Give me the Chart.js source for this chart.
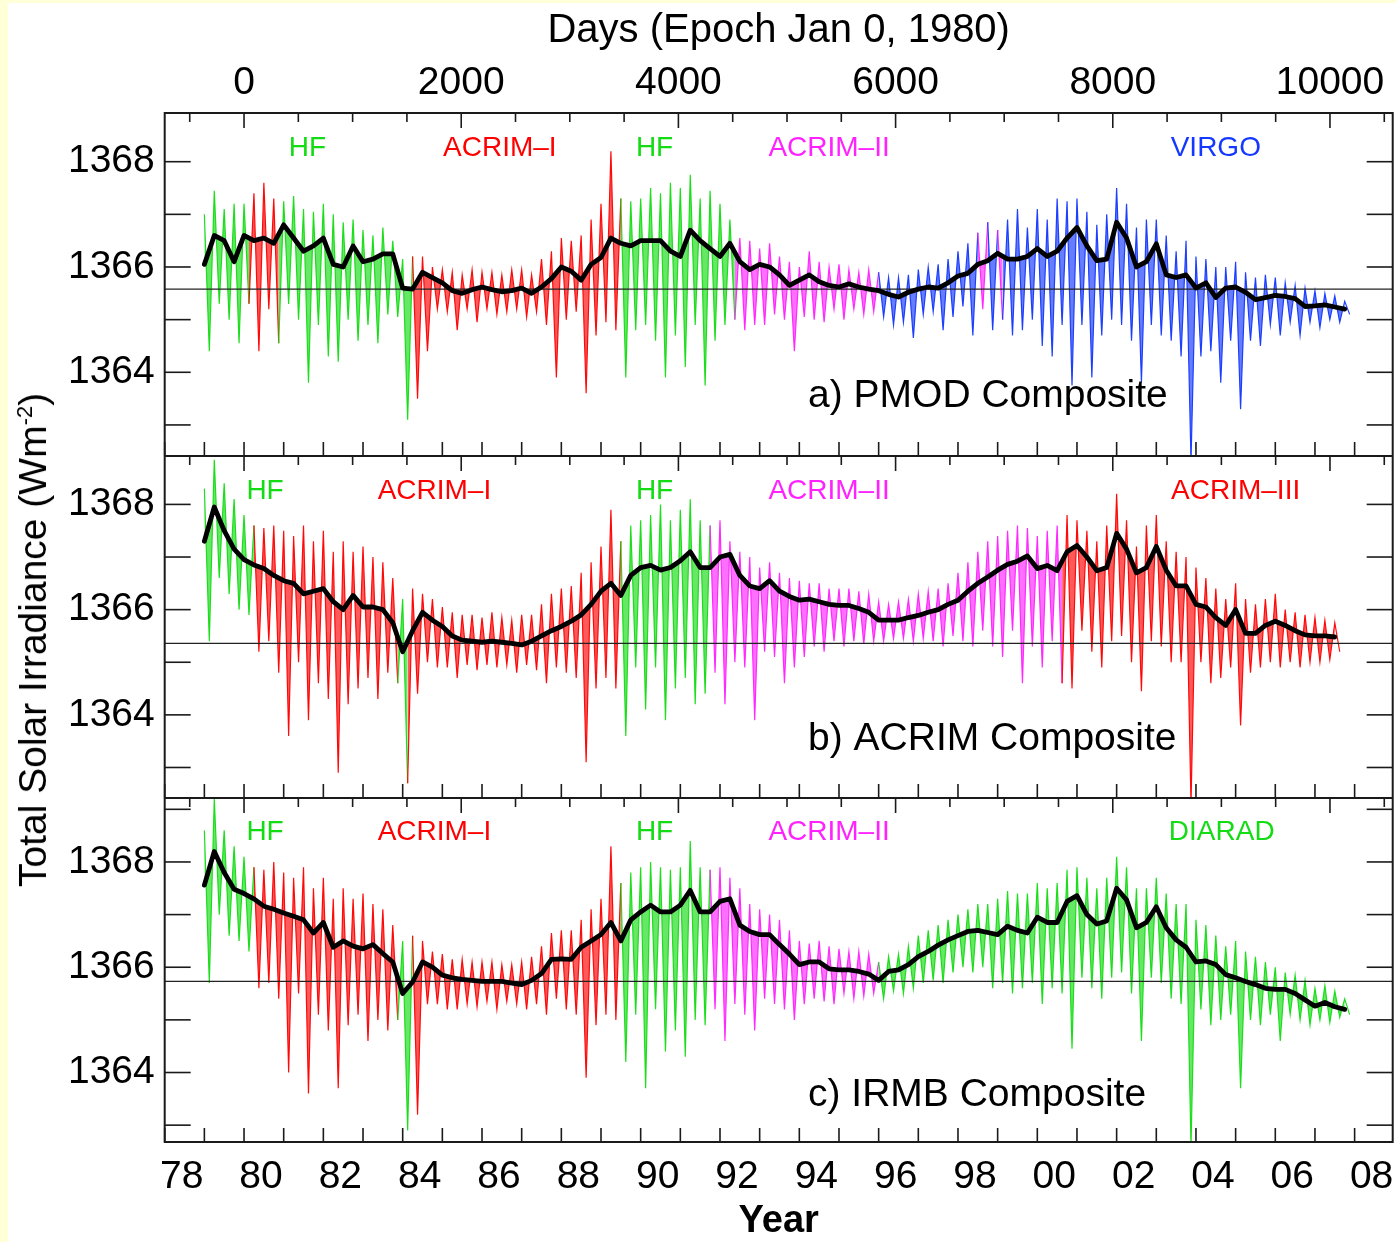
<!DOCTYPE html>
<html>
<head>
<meta charset="utf-8">
<title>TSI composites</title>
<script src="https://cdn.jsdelivr.net/npm/chart.js@4.4.1/dist/chart.umd.min.js"></script>
<style>
  html, body { margin: 0; padding: 0; background: #ffffd8; }
  #sheet { position: absolute; left: 8px; top: 3px; width: 1388px; height: 1239px; background: #fff; }
  canvas { position: absolute; left: 0; }
  #ytitle {
    position: absolute; left: 33px; top: 640px;
    transform: translate(-50%, -50%) rotate(-90deg);
    font: 39px "Liberation Sans", Arial, sans-serif; white-space: nowrap; color: #000;
  }
  #ytitle sup { font-size: 22px; }
</style>
</head>
<body>
<div id="sheet"></div>
<canvas id="chartA" width="1396" height="456" style="top:0px"></canvas>
<canvas id="chartB" width="1396" height="342" style="top:456px"></canvas>
<canvas id="chartC" width="1396" height="444" style="top:798px"></canvas>
<div id="ytitle">Total Solar Irradiance (Wm<sup>-2</sup>)</div>
<script>
// quarter-year grid, first sample 1979.0
const START_YEAR = 1979.0;
const STEP = 0.25;
const XMIN = 1978;
const XMAX = 2008.96;

// a) PMOD: smoothed curve, upper and lower edge of the daily values
const pmodSmooth = [
  1366.05, 1366.6, 1366.5, 1366.1,   1366.6, 1366.5, 1366.55, 1366.45,
  1366.8, 1366.55, 1366.3, 1366.4,   1366.55, 1366.05, 1366.0, 1366.4,
  1366.1, 1366.15, 1366.25, 1366.25, 1365.6, 1365.58, 1365.9, 1365.8,
  1365.7, 1365.55, 1365.5, 1365.57,  1365.62, 1365.57, 1365.53, 1365.55,
  1365.6, 1365.5, 1365.62, 1365.78,  1366.0, 1365.92, 1365.75, 1366.05,
  1366.18, 1366.55, 1366.45, 1366.4, 1366.5, 1366.5, 1366.5, 1366.3,
  1366.2, 1366.7, 1366.5, 1366.35,   1366.2, 1366.45, 1366.1, 1365.95,
  1366.05, 1366.0, 1365.85, 1365.65, 1365.75, 1365.85, 1365.72, 1365.65,
  1365.62, 1365.68, 1365.62, 1365.58, 1365.55, 1365.48, 1365.43, 1365.52,
  1365.58, 1365.62, 1365.6, 1365.7,  1365.83, 1365.88, 1366.05, 1366.12,
  1366.26, 1366.15, 1366.15, 1366.2, 1366.35, 1366.2, 1366.3, 1366.55,
  1366.75, 1366.4, 1366.12, 1366.15, 1366.85, 1366.55, 1366.0, 1366.1,
  1366.44, 1365.85, 1365.8, 1365.85, 1365.6, 1365.7, 1365.42, 1365.6,
  1365.62, 1365.52, 1365.38, 1365.42, 1365.46, 1365.44, 1365.4, 1365.25,
  1365.26, 1365.28, 1365.24, 1365.2
];
const pmodHigh = [
  1367.0, 1367.45, 1367.1, 1367.2,   1367.2, 1367.4, 1367.6, 1367.3,
  1367.25, 1367.35, 1367.1, 1367.05, 1367.2, 1367.0, 1366.85, 1366.9,
  1366.7, 1366.6, 1366.75, 1366.5,   1366.15, 1366.2, 1366.2, 1366.0,
  1365.95, 1365.9, 1365.85, 1365.95, 1365.9, 1365.9, 1365.85, 1365.95,
  1365.95, 1365.85, 1366.15, 1366.3, 1366.55, 1366.5, 1366.6, 1366.9,
  1367.2, 1368.2, 1367.3, 1367.25,   1367.3, 1367.5, 1367.4, 1367.6,
  1367.5, 1367.75, 1367.3, 1367.45,  1367.2, 1366.9, 1366.55, 1366.5,
  1366.35, 1366.45, 1366.2, 1366.1,  1366.0, 1366.3, 1366.1, 1366.0,
  1366.05, 1365.95, 1365.9, 1365.95, 1365.9, 1365.8, 1365.8, 1365.85,
  1365.95, 1366.0, 1366.05, 1366.15, 1366.3, 1366.45, 1366.65, 1366.85,
  1366.7, 1366.9, 1367.1, 1366.75,   1367.1, 1366.9, 1367.3, 1367.25,
  1367.3, 1367.05, 1366.8, 1367.0,   1367.5, 1367.2, 1366.75, 1366.9,
  1366.9, 1366.6, 1366.3, 1366.5,    1366.2, 1366.15, 1366.0, 1366.0,
  1366.1, 1365.9, 1365.8, 1365.85,   1365.8, 1365.7, 1365.65, 1365.6,
  1365.55, 1365.5, 1365.45, 1365.35
];
const pmodLow = [
  1364.4, 1365.3, 1365.0, 1364.55,   1365.3, 1364.4, 1365.2, 1364.55,
  1365.3, 1365.0, 1363.8, 1364.9,    1364.3, 1364.2, 1365.0, 1364.6,
  1364.9, 1364.55, 1365.1, 1365.05,  1363.1, 1363.5, 1364.4, 1365.2,
  1365.15, 1364.8, 1365.2, 1364.95,  1365.2, 1365.1, 1365.15, 1365.2,
  1365.05, 1365.15, 1364.9, 1363.9,  1365.0, 1365.15, 1363.6, 1364.7,
  1364.95, 1364.8, 1363.9, 1364.8,   1364.9, 1364.6, 1363.9, 1364.7,
  1364.1, 1364.9, 1363.75, 1364.6,   1364.9, 1365.0, 1364.8, 1364.9,
  1364.9, 1365.1, 1365.0, 1364.4,    1365.05, 1365.0, 1364.95, 1365.2,
  1365.0, 1365.2, 1365.1, 1365.15,   1365.05, 1364.9, 1364.95, 1364.65,
  1365.1, 1365.15, 1364.8, 1365.05,  1365.25, 1364.7, 1365.2, 1364.8,
  1365.0, 1364.7, 1364.8, 1365.0,    1364.5, 1364.3, 1364.9, 1363.75,
  1364.9, 1363.9, 1364.7, 1365.0,    1364.9, 1364.6, 1363.8, 1364.9,
  1364.7, 1364.6, 1364.3, 1362.3,    1364.3, 1364.4, 1363.8, 1364.6,
  1363.3, 1364.6, 1364.5, 1364.9,    1364.7, 1364.95, 1364.7, 1364.95,
  1364.85, 1365.0, 1364.95, 1365.1
];
const pmodRef = 1365.58;
const pmodSources = [
  [1978.8, 1980.1, 'HF'], [1980.1, 1980.85, 'ACRIM-I'], [1980.85, 1984.3, 'HF'],
  [1984.3, 1989.55, 'ACRIM-I'], [1989.55, 1992.4, 'HF'], [1992.4, 1996.0, 'ACRIM-II'],
  [1996.0, 1998.5, 'VIRGO'], [1998.5, 1998.7, 'ACRIM-II'], [1998.7, 1998.95, 'VIRGO'],
  [1998.95, 1999.1, 'ACRIM-II'], [1999.1, 2009, 'VIRGO']
];

// b) ACRIM
const acrimSmooth = [
  1367.3, 1367.95, 1367.5, 1367.15,  1366.95, 1366.85, 1366.78, 1366.65,
  1366.55, 1366.5, 1366.3, 1366.35,  1366.4, 1366.15, 1366.0, 1366.27,
  1366.05, 1366.05, 1366.0, 1365.75, 1365.2, 1365.6, 1365.95, 1365.8,
  1365.68, 1365.5, 1365.42, 1365.4,  1365.38, 1365.4, 1365.38, 1365.36,
  1365.33, 1365.4, 1365.5, 1365.6,   1365.68, 1365.78, 1365.9, 1366.1,
  1366.35, 1366.5, 1366.27, 1366.65, 1366.8, 1366.84, 1366.75, 1366.8,
  1366.93, 1367.1, 1366.8, 1366.8,   1367.0, 1367.05, 1366.65, 1366.45,
  1366.4, 1366.55, 1366.35, 1366.25, 1366.18, 1366.2, 1366.15, 1366.1,
  1366.08, 1366.08, 1366.02, 1365.95, 1365.8, 1365.8, 1365.8, 1365.85,
  1365.89, 1365.95, 1366.0, 1366.1,  1366.18, 1366.35, 1366.5, 1366.62,
  1366.75, 1366.86, 1366.92, 1367.02, 1366.78, 1366.84, 1366.74, 1367.1,
  1367.22, 1367.0, 1366.74, 1366.8,  1367.45, 1367.15, 1366.7, 1366.8,
  1367.2, 1366.75, 1366.45, 1366.45, 1366.1, 1366.05, 1365.85, 1365.7,
  1366.0, 1365.55, 1365.55, 1365.7,  1365.78, 1365.7, 1365.6, 1365.52,
  1365.5, 1365.5, 1365.48, null
];
const acrimHigh = [
  1368.3, 1368.85, 1368.4, 1368.1,  1367.8, 1367.6, 1367.55, 1367.6,
  1367.5, 1367.4, 1367.6, 1367.3,   1367.5, 1367.1, 1367.3, 1367.1,
  1367.2, 1367.0, 1366.9, 1366.6,   1366.2, 1366.4, 1366.3, 1366.2,
  1366.05, 1365.95, 1365.9, 1365.9, 1365.85, 1365.95, 1365.85, 1365.8,
  1365.9, 1365.9, 1366.1, 1366.3,   1366.4, 1366.45, 1366.7, 1366.9,
  1367.2, 1367.9, 1367.3, 1367.6,   1367.7, 1367.8, 1368.0, 1367.7,
  1367.9, 1368.1, 1367.7, 1367.6,   1367.7, 1367.3, 1367.1, 1367.0,
  1366.8, 1366.9, 1366.7, 1366.6,   1366.55, 1366.5, 1366.5, 1366.4,
  1366.4, 1366.4, 1366.35, 1366.3,  1366.15, 1366.1, 1366.15, 1366.2,
  1366.3, 1366.35, 1366.4, 1366.5,  1366.7, 1366.9, 1367.1, 1367.3,
  1367.4, 1367.5, 1367.6, 1367.55,  1367.4, 1367.5, 1367.6, 1367.8,
  1367.7, 1367.5, 1367.3, 1367.6,   1368.2, 1367.7, 1367.2, 1367.6,
  1367.8, 1367.3, 1367.1, 1367.0,   1366.8, 1366.6, 1366.4, 1366.2,
  1366.5, 1366.2, 1366.1, 1366.2,   1366.3, 1366.0, 1365.95, 1365.9,
  1365.85, 1365.8, 1365.75, null
];
const acrimLow = [
  1365.4, 1366.6, 1366.3, 1366.0,   1365.9, 1365.2, 1365.4, 1364.8,
  1363.6, 1365.0, 1363.9, 1364.6,   1364.3, 1362.9, 1364.2, 1364.5,
  1364.7, 1364.3, 1364.8, 1364.6,   1362.7, 1364.4, 1365.0, 1364.9,
  1364.9, 1364.7, 1364.95, 1364.85, 1364.95, 1364.9, 1364.95, 1364.8,
  1364.95, 1364.85, 1364.6, 1364.9, 1364.8, 1364.7, 1363.1, 1364.5,
  1364.7, 1364.5, 1363.6, 1364.9,   1364.1, 1364.9, 1363.9, 1364.5,
  1364.7, 1364.2, 1364.4, 1364.8,   1364.2, 1365.0, 1364.9, 1363.9,
  1365.2, 1365.1, 1364.6, 1364.9,   1365.1, 1365.3, 1365.2, 1365.4,
  1365.3, 1365.4, 1365.35, 1365.4,  1365.4, 1365.45, 1365.45, 1365.4,
  1365.45, 1365.4, 1365.3, 1365.5,  1365.4, 1365.3, 1365.6, 1365.3,
  1365.1, 1365.6, 1364.6, 1365.3,   1364.9, 1365.4, 1364.6, 1364.5,
  1365.6, 1365.2, 1364.9, 1365.4,   1365.5, 1365.0, 1364.45, 1365.4,
  1365.3, 1365.0, 1365.0, 1362.3,   1365.0, 1364.6, 1364.7, 1364.9,
  1363.8, 1364.8, 1364.9, 1365.0,   1364.9, 1365.0, 1364.9, 1365.0,
  1365.0, 1365.05, 1365.2, null
];
const acrimRef = 1365.36;
const acrimSources = [
  [1978.8, 1980.2, 'HF'], [1980.2, 1983.9, 'ACRIM-I'], [1983.9, 1984.15, 'HF'],
  [1984.15, 1989.55, 'ACRIM-I'], [1989.55, 1991.75, 'HF'], [1991.75, 2000.6, 'ACRIM-II'],
  [2000.6, 2009, 'ACRIM-III']
];

// c) IRMB
const irmbSmooth = [
  1367.56, 1368.2, 1367.8, 1367.48,  1367.4, 1367.3, 1367.16, 1367.1,
  1367.03, 1366.97, 1366.9, 1366.65, 1366.85, 1366.38, 1366.5, 1366.4,
  1366.35, 1366.43, 1366.26, 1366.1, 1365.5, 1365.72, 1366.1, 1366.0,
  1365.85, 1365.8, 1365.77, 1365.75, 1365.73, 1365.73, 1365.73, 1365.7,
  1365.67, 1365.75, 1365.88, 1366.15, 1366.16, 1366.15, 1366.38, 1366.5,
  1366.62, 1366.85, 1366.5, 1366.9,  1367.05, 1367.18, 1367.05, 1367.05,
  1367.18, 1367.46, 1367.05, 1367.05, 1367.25, 1367.3, 1366.8, 1366.68,
  1366.62, 1366.62, 1366.43, 1366.25, 1366.05, 1366.1, 1366.1, 1365.97,
  1365.95, 1365.95, 1365.92, 1365.87, 1365.75, 1365.92, 1365.95, 1366.05,
  1366.2, 1366.3, 1366.42, 1366.52,  1366.6, 1366.68, 1366.7, 1366.66,
  1366.62, 1366.78, 1366.7, 1366.65, 1366.95, 1366.85, 1366.85, 1367.25,
  1367.36, 1367.0, 1366.82, 1366.88, 1367.5, 1367.28, 1366.75, 1366.85,
  1367.15, 1366.75, 1366.52, 1366.38, 1366.1, 1366.12, 1366.05, 1365.86,
  1365.8, 1365.73, 1365.67, 1365.6,  1365.58, 1365.58, 1365.5, 1365.38,
  1365.26, 1365.33, 1365.25, 1365.2
];
const irmbHigh = [
  1368.6, 1369.2, 1368.6, 1368.3,   1368.1, 1367.9, 1367.85, 1368.0,
  1367.8, 1367.7, 1367.9, 1367.5,   1367.7, 1367.3, 1367.5, 1367.3,
  1367.4, 1367.2, 1367.1, 1366.8,   1366.5, 1366.6, 1366.5, 1366.3,
  1366.25, 1366.15, 1366.15, 1366.1, 1366.1, 1366.1, 1366.05, 1366.05,
  1366.1, 1366.2, 1366.4, 1366.65,  1366.7, 1366.7, 1366.9, 1367.1,
  1367.3, 1368.3, 1367.6, 1367.8,   1367.9, 1368.0, 1367.9, 1367.85,
  1367.9, 1368.4, 1367.9, 1367.85,  1367.9, 1367.7, 1367.5, 1367.2,
  1367.1, 1367.0, 1366.9, 1366.7,   1366.5, 1366.45, 1366.5, 1366.4,
  1366.35, 1366.3, 1366.3, 1366.25, 1366.1, 1366.2, 1366.25, 1366.4,
  1366.6, 1366.7, 1366.8, 1366.9,   1367.0, 1367.1, 1367.2, 1367.2,
  1367.3, 1367.45, 1367.4, 1367.4,  1367.6, 1367.5, 1367.6, 1367.85,
  1367.9, 1367.7, 1367.5, 1367.7,   1368.1, 1367.9, 1367.5, 1367.5,
  1367.7, 1367.4, 1367.2, 1367.2,   1366.9, 1366.8, 1366.6, 1366.4,
  1366.5, 1366.3, 1366.2, 1366.1,   1366.0, 1365.9, 1365.85, 1365.75,
  1365.6, 1365.65, 1365.55, 1365.4
];
const irmbLow = [
  1365.7, 1367.0, 1366.6, 1366.5,   1366.3, 1365.6, 1365.7, 1365.4,
  1364.0, 1365.5, 1363.6, 1365.1,   1364.8, 1363.7, 1364.9, 1365.1,
  1364.6, 1365.0, 1364.8, 1365.0,   1362.9, 1363.2, 1365.3, 1365.3,
  1365.2, 1365.2, 1365.3, 1365.25,  1365.35, 1365.2, 1365.35, 1365.3,
  1365.2, 1365.3, 1365.1, 1365.4,   1365.2, 1365.1, 1363.9, 1364.9,
  1365.1, 1365.0, 1364.2, 1365.1,   1363.7, 1365.2, 1364.4, 1364.8,
  1364.3, 1365.0, 1364.9, 1365.2,   1364.6, 1365.3, 1365.1, 1364.8,
  1365.4, 1365.3, 1365.2, 1365.0,   1365.3, 1365.4, 1365.35, 1365.3,
  1365.5, 1365.4, 1365.45, 1365.5,  1365.4, 1365.55, 1365.5, 1365.6,
  1365.7, 1365.75, 1365.7, 1365.9,  1366.0, 1365.9, 1366.0, 1365.6,
  1365.7, 1365.5, 1365.6, 1365.7,   1365.3, 1365.6, 1365.5, 1364.45,
  1365.8, 1365.6, 1365.4, 1365.8,   1365.9, 1365.5, 1364.6, 1365.8,
  1365.7, 1365.4, 1365.3, 1362.6,   1365.2, 1364.9, 1365.0, 1365.1,
  1363.7, 1365.0, 1364.9, 1365.1,   1364.6, 1365.1, 1365.0, 1364.9,
  1365.0, 1364.95, 1365.05, 1365.1
];
const irmbRef = 1365.73;
const irmbSources = [
  [1978.8, 1980.2, 'HF'], [1980.2, 1983.9, 'ACRIM-I'], [1983.9, 1984.3, 'HF'],
  [1984.3, 1989.55, 'ACRIM-I'], [1989.55, 1991.75, 'HF'], [1991.75, 1996.0, 'ACRIM-II'],
  [1996.0, 2009, 'DIARAD']
];

const SOURCE_COLORS = {
  'HF': [20, 220, 20], 'ACRIM-I': [255, 0, 0], 'ACRIM-II': [255, 34, 255],
  'ACRIM-III': [255, 0, 0], 'VIRGO': [20, 56, 255], 'DIARAD': [20, 220, 20]
};

const FONT = '"Liberation Sans", Arial, Helvetica, sans-serif';
const years = pmodSmooth.map((_, i) => START_YEAR + i * STEP);

// tick positions
const yearTicks = [];
for (let y = Math.ceil(XMIN); y <= XMAX; y++) yearTicks.push(y);
const toDays = yr => (yr - 1980) * 365.25;
const dayTicks = [];
for (let d = Math.ceil(toDays(XMIN) / 500) * 500; d <= toDays(XMAX); d += 500) dayTicks.push(d);

function rgba(key, a) {
  const c = SOURCE_COLORS[key];
  return `rgba(${c[0]},${c[1]},${c[2]},${a})`;
}

function sourceAt(sources, x) {
  for (const s of sources) {
    if (x >= s[0] && x < s[1]) return s[2];
  }
  return sources[sources.length - 1][2];
}

// daily values alternate between the upper and lower edge
function noisePoints(high, low) {
  const pts = [];
  high.forEach((h, i) => {
    if (h == null) return;
    pts.push({ x: years[i], y: h });
    pts.push({ x: years[i] + STEP / 2, y: low[i] });
  });
  return pts;
}

function smoothPoints(vals) {
  const pts = [];
  vals.forEach((v, i) => { if (v != null) pts.push({ x: years[i], y: v }); });
  return pts;
}

// keep tick label overflow from shrinking the plot area
function noPadding(s) {
  s.paddingTop = 0; s.paddingBottom = 0; s.paddingLeft = 0; s.paddingRight = 0;
}

const framePlugin = {
  id: 'frame',
  afterDatasetsDraw(chart, args, opts) {
    const { ctx, chartArea: a, scales } = chart;
    ctx.save();
    ctx.strokeStyle = '#1a1a1a';
    ctx.lineWidth = 1.6;
    const seg = (x1, y1, x2, y2) => { ctx.beginPath(); ctx.moveTo(x1, y1); ctx.lineTo(x2, y2); ctx.stroke(); };
    for (let v = Math.ceil(scales.y.min); v <= scales.y.max; v++) {
      const py = scales.y.getPixelForValue(v);
      seg(a.left, py, a.left + 26, py);
      seg(a.right - 26, py, a.right, py);
    }
    yearTicks.forEach(yr => {
      const px = scales.x.getPixelForValue(yr);
      seg(px, a.bottom, px, a.bottom - 14);
    });
    dayTicks.forEach(dv => {
      const px = scales.days.getPixelForValue(dv);
      seg(px, a.top, px, a.top + (dv % 2000 === 0 ? 15 : 9));
    });
    ctx.lineWidth = 2;
    ctx.strokeRect(a.left, a.top, a.right - a.left, a.bottom - a.top);

    ctx.textBaseline = 'middle';
    ctx.textAlign = 'center';
    ctx.font = '28px ' + FONT;
    opts.labels.forEach(l => {
      ctx.fillStyle = rgba(l.source, 1);
      ctx.fillText(l.text, scales.x.getPixelForValue(l.x), scales.y.getPixelForValue(l.y));
    });
    ctx.textAlign = 'left';
    ctx.font = '39px ' + FONT;
    ctx.fillStyle = '#000';
    ctx.fillText(opts.caption.text, scales.x.getPixelForValue(opts.caption.x), scales.y.getPixelForValue(opts.caption.y));
    ctx.restore();
  }
};

function makePanel(id, p) {
  const yTicks = [];
  for (let v = Math.ceil(p.yMin); v <= p.yMax; v++) yTicks.push(v);
  const segSource = c => sourceAt(p.sources, (c.p0.parsed.x + c.p1.parsed.x) / 2);
  return new Chart(document.getElementById(id), {
    type: 'line',
    data: {
      datasets: [
        {
          data: noisePoints(p.high, p.low),
          borderWidth: 1.2,
          pointRadius: 0,
          tension: 0,
          order: 3,
          fill: 2,
          segment: {
            borderColor: c => rgba(segSource(c), 0.95),
            backgroundColor: c => rgba(segSource(c), 0.65)
          }
        },
        {
          data: [{ x: XMIN, y: p.ref }, { x: XMAX, y: p.ref }],
          borderColor: '#222', borderWidth: 1.3, pointRadius: 0, order: 2, fill: false
        },
        {
          data: smoothPoints(p.smooth),
          borderColor: '#000', borderWidth: 4.8, pointRadius: 0, fill: false,
          borderJoinStyle: 'round', borderCapStyle: 'round', tension: 0, order: 1
        }
      ]
    },
    options: {
      responsive: false,
      animation: false,
      events: [],
      layout: { padding: { left: 0, right: 3.3, top: 0, bottom: 0 } },
      plugins: {
        legend: { display: false },
        tooltip: { enabled: false },
        filler: { propagate: false },
        frame: { labels: p.labels, caption: p.caption }
      },
      scales: {
        x: {
          type: 'linear', position: 'bottom', min: XMIN, max: XMAX,
          display: p.showYear,
          grid: { display: false, drawTicks: false },
          border: { display: false },
          afterBuildTicks: s => { s.ticks = yearTicks.map(v => ({ value: v })); },
          afterFit: s => { noPadding(s); if (p.showYear) s.height = 100; },
          ticks: {
            autoSkip: false, maxRotation: 0, padding: 12, labelOffset: 17,
            color: '#000', font: { family: FONT, size: 39 },
            callback: v => (v % 2 === 0 ? String(v).slice(2) : '')
          },
          title: {
            display: true, text: 'Year', color: '#000',
            font: { family: FONT, size: 38, weight: 'bold', lineHeight: 1 },
            padding: { top: 0, bottom: 1 }
          }
        },
        days: {
          axis: 'x', type: 'linear', position: 'top',
          min: toDays(XMIN), max: toDays(XMAX),
          display: p.showDays,
          grid: { display: false, drawTicks: false },
          border: { display: false },
          afterBuildTicks: s => { s.ticks = dayTicks.map(v => ({ value: v })); },
          afterFit: s => { noPadding(s); if (p.showDays) s.height = 113; },
          ticks: {
            autoSkip: false, maxRotation: 0, padding: 6,
            color: '#000', font: { family: FONT, size: 39 },
            callback: v => (v % 2000 === 0 ? String(v) : '')
          },
          title: {
            display: true, text: 'Days (Epoch Jan 0, 1980)', color: '#000',
            font: { family: FONT, size: 40 },
            padding: { top: 7, bottom: 0 }
          }
        },
        y: {
          type: 'linear', position: 'left', min: p.yMin, max: p.yMax,
          grid: { display: false, drawTicks: false },
          border: { display: false },
          afterBuildTicks: s => { s.ticks = yTicks.map(v => ({ value: v })); },
          afterFit: s => { noPadding(s); s.width = 164.7; },
          ticks: {
            autoSkip: false, padding: 10,
            color: '#000', font: { family: FONT, size: 39 },
            callback: v => (v % 2 === 0 ? String(v) : '')
          }
        }
      }
    },
    plugins: [framePlugin]
  });
}

makePanel('chartA', {
  smooth: pmodSmooth, high: pmodHigh, low: pmodLow, ref: pmodRef, sources: pmodSources,
  yMin: 1362.41, yMax: 1368.925, showDays: true, showYear: false,
  labels: [
    { text: 'HF', source: 'HF', x: 1981.6, y: 1368.25 },
    { text: 'ACRIM\u2013I', source: 'ACRIM-I', x: 1986.45, y: 1368.25 },
    { text: 'HF', source: 'HF', x: 1990.35, y: 1368.25 },
    { text: 'ACRIM\u2013II', source: 'ACRIM-II', x: 1994.75, y: 1368.25 },
    { text: 'VIRGO', source: 'VIRGO', x: 2004.5, y: 1368.25 }
  ],
  caption: { text: 'a) PMOD Composite', x: 1994.22, y: 1363.54 }
});

makePanel('chartB', {
  smooth: acrimSmooth, high: acrimHigh, low: acrimLow, ref: acrimRef, sources: acrimSources,
  yMin: 1362.42, yMax: 1368.92, showDays: false, showYear: false,
  labels: [
    { text: 'HF', source: 'HF', x: 1980.53, y: 1368.25 },
    { text: 'ACRIM\u2013I', source: 'ACRIM-I', x: 1984.8, y: 1368.25 },
    { text: 'HF', source: 'HF', x: 1990.35, y: 1368.25 },
    { text: 'ACRIM\u2013II', source: 'ACRIM-II', x: 1994.75, y: 1368.25 },
    { text: 'ACRIM\u2013III', source: 'ACRIM-III', x: 2005.0, y: 1368.25 }
  ],
  caption: { text: 'b) ACRIM Composite', x: 1994.22, y: 1363.54 }
});

makePanel('chartC', {
  smooth: irmbSmooth, high: irmbHigh, low: irmbLow, ref: irmbRef, sources: irmbSources,
  yMin: 1362.68, yMax: 1369.215, showDays: false, showYear: true,
  labels: [
    { text: 'HF', source: 'HF', x: 1980.53, y: 1368.56 },
    { text: 'ACRIM\u2013I', source: 'ACRIM-I', x: 1984.8, y: 1368.56 },
    { text: 'HF', source: 'HF', x: 1990.35, y: 1368.56 },
    { text: 'ACRIM\u2013II', source: 'ACRIM-II', x: 1994.75, y: 1368.56 },
    { text: 'DIARAD', source: 'DIARAD', x: 2004.65, y: 1368.56 }
  ],
  caption: { text: 'c) IRMB Composite', x: 1994.22, y: 1363.56 }
});
</script>
</body>
</html>
